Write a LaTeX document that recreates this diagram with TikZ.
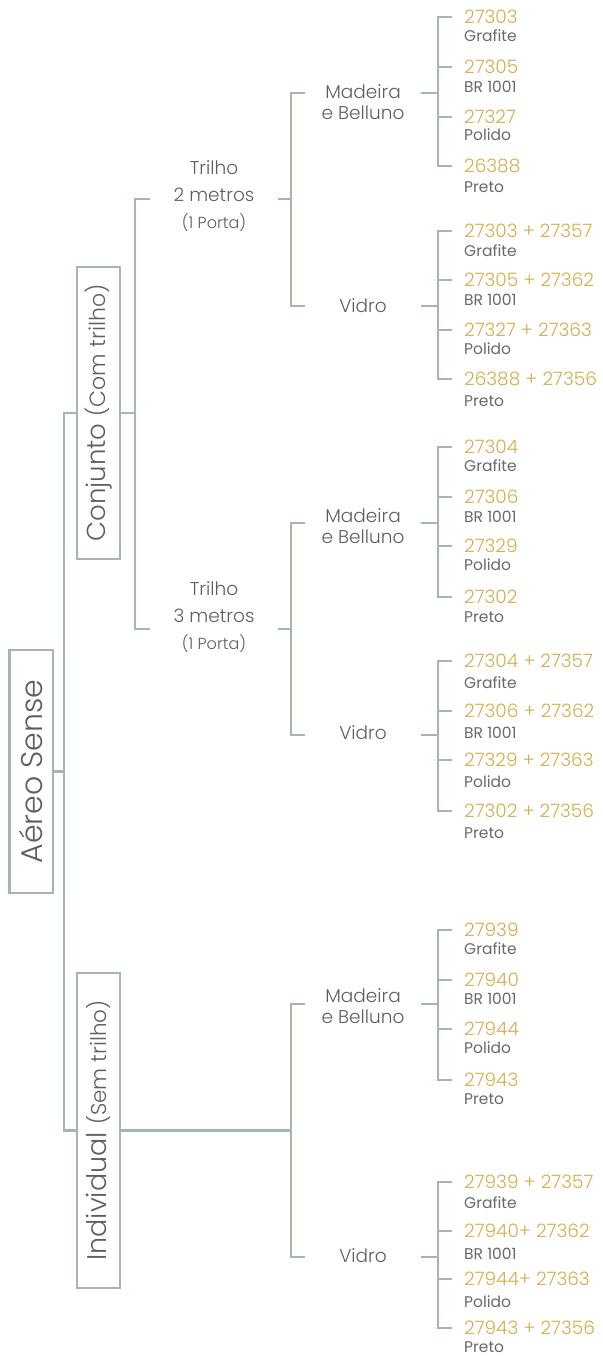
\documentclass[tikz,border=0pt]{standalone}
\usepackage{fontspec}
\setmainfont{Poppins Light}
\newfontfamily\regfont{Poppins}
\definecolor{ln}{HTML}{A3B8A8}
\definecolor{gold}{HTML}{D4AE4C}
\definecolor{txt}{HTML}{5E5E63}
\definecolor{labtxt}{HTML}{68686D}
\newcommand\leaf[5]{%
  \node[num] (#1) at (464,#2) {#3};
  \node[lab] (#1l) at (464,#5) {#4};}
\newcommand\brk[6]{% parent, yshift, four leaves
  \draw[line] ([yshift=#2]#1.east) -- ++(17,0);
  \draw[line] ([xshift=-12pt]#3.west) -- ++(-14,0) |- ([xshift=-12pt]#6.west);
  \draw[line] ([xshift=-12pt]#4.west) -- ++(-14,0);
  \draw[line] ([xshift=-12pt]#5.west) -- ++(-14,0);}
\begin{document}
\begin{tikzpicture}[x=1pt,y=-1pt,
  line/.style={draw=ln,line width=2.2pt},
  box/.style={draw=ln,line width=2.2pt,rotate=90,inner sep=0pt,text=txt},
  mid/.style={text=txt,font=\fontsize{18.5}{21}\selectfont,align=center,inner sep=0pt,minimum width=116pt},
  tri/.style={text=txt,font=\fontsize{18.5}{27}\selectfont,align=center,inner sep=0pt,minimum width=128pt},
  num/.style={text=gold,font=\fontsize{18.5}{20}\selectfont,inner sep=0pt,anchor=west,text height=13pt,text depth=0pt},
  lab/.style={text=labtxt,font=\regfont\fontsize{15.5}{16}\selectfont,inner sep=0pt,anchor=west,text height=11pt,text depth=0pt},
]
\useasboundingbox (0,0) rectangle (602,1356);
% root and level 1
\node[box,minimum width=243pt,minimum height=43.5pt,font=\fontsize{30}{36}\selectfont] (aereo) at (31.25,771.5) {Aéreo Sense};
\node[box,minimum width=292pt,minimum height=43pt] (conj) at (98.5,413) {\fontsize{26}{30}\selectfont Conjunto \fontsize{22}{24}\selectfont(Com trilho)};
\node[box,minimum width=315pt,minimum height=43pt] (indiv) at (98.5,1130.5) {\fontsize{27}{30}\selectfont Individual \fontsize{21.5}{24}\selectfont(Sem trilho)};
\draw[line] (aereo.south) -- ++(9.5,0) |- (conj.north);
\draw[line] (aereo.south) -- ++(9.5,0) |- (indiv.north);
% trilho
\node[tri] (t2) at (214,196) {Trilho\\2 metros\\{\fontsize{16}{16}\selectfont(1 Porta)}};
\node[tri] (t3) at (214,617) {Trilho\\3 metros\\{\fontsize{16}{16}\selectfont(1 Porta)}};
\draw[line] (conj.south) -- ++(15,0);
\draw[line] ([yshift=-3pt]t2.west) -- ++(-15,0) |- ([yshift=-12pt]t3.west);
\draw[line] ([yshift=-3pt]t2.east) -- ++(13,0);
\draw[line] ([yshift=-12pt]t3.east) -- ++(13,0);
% mid nodes
\node[mid] (m1) at (363,102.5) {Madeira\\e Belluno};
\node[mid] (v1) at (363,305.5) {Vidro};
\node[mid] (m2) at (363,526) {Madeira\\e Belluno};
\node[mid] (v2) at (363,733) {Vidro};
\node[mid] (m3) at (363,1006.5) {Madeira\\e Belluno};
\node[mid] (v3) at (363,1256) {Vidro};
\draw[line] ([yshift=9.5pt]m1.west) -- ++(-14,0) |- ([yshift=-0.5pt]v1.west);
\draw[line] ([yshift=3pt]m2.west) -- ++(-14,0) |- ([yshift=-2pt]v2.west);
\draw[line] ([yshift=2.5pt]m3.west) -- ++(-14,0) |- ([yshift=-1pt]v3.west);
\draw[line] (indiv.south) -- ++(171,0);
% leaves group 1
\leaf{a1}{17}{27303}{Grafite}{36}
\leaf{a2}{67}{27305}{BR 1001}{87}
\leaf{a3}{117}{27327}{Polido}{135}
\leaf{a4}{166}{26388}{Preto}{187}
\leaf{b1}{231}{27303 + 27357}{Grafite}{251}
\leaf{b2}{280}{27305 + 27362}{BR 1001}{300}
\leaf{b3}{330}{27327 + 27363}{Polido}{349}
\leaf{b4}{379}{26388 + 27356}{Preto}{401}
% leaves group 2
\leaf{c1}{447}{27304}{Grafite}{466}
\leaf{c2}{497}{27306}{BR 1001}{517}
\leaf{c3}{546}{27329}{Polido}{565}
\leaf{c4}{597}{27302}{Preto}{617}
\leaf{d1}{661}{27304 + 27357}{Grafite}{683}
\leaf{d2}{711}{27306 + 27362}{BR 1001}{733}
\leaf{d3}{760}{27329 + 27363}{Polido}{782}
\leaf{d4}{811}{27302 + 27356}{Preto}{833}
% leaves group 3
\leaf{e1}{930}{27939}{Grafite}{949}
\leaf{e2}{980}{27940}{BR 1001}{999}
\leaf{e3}{1029}{27944}{Polido}{1048}
\leaf{e4}{1080}{27943}{Preto}{1099}
\leaf{f1}{1182}{27939 + 27357}{Grafite}{1203}
\leaf{f2}{1231}{27940+ 27362}{BR 1001}{1254}
\leaf{f3}{1279}{27944+ 27363}{Polido}{1302}
\leaf{f4}{1328}{27943 + 27356}{Preto}{1347}
% brackets
\brk{m1}{9.5pt}{a1}{a2}{a3}{a4}
\brk{v1}{-0.5pt}{b1}{b2}{b3}{b4}
\brk{m2}{3pt}{c1}{c2}{c3}{c4}
\brk{v2}{-2pt}{d1}{d2}{d3}{d4}
\brk{m3}{2.5pt}{e1}{e2}{e3}{e4}
\brk{v3}{-1pt}{f1}{f2}{f3}{f4}
\end{tikzpicture}
\end{document}
